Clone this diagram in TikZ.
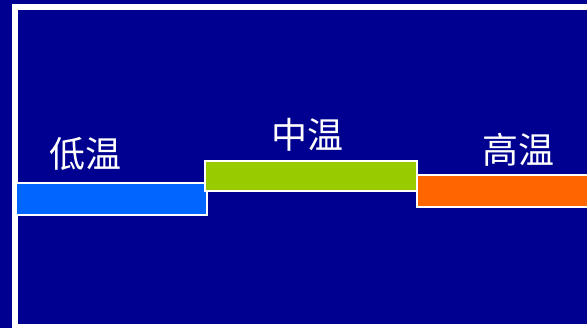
\documentclass[tikz,border=0pt]{standalone}
\usepackage{fontspec}
\newfontfamily\cjk{Noto Sans CJK SC}
\definecolor{bgblue}{RGB}{0,0,144}
\definecolor{barblue}{RGB}{0,102,255}
\definecolor{bargreen}{RGB}{153,204,0}
\definecolor{barorange}{RGB}{255,102,0}
\begin{document}
\begin{tikzpicture}[x=1pt,y=-1pt,
  bar/.style={draw=white,line width=1.2pt,inner sep=0pt,outer sep=0pt,anchor=north west},
  lbl/.style={text=white,font=\cjk\fontsize{36}{36}\selectfont,inner sep=0pt}]
\useasboundingbox (0,0) rectangle (587,328);
\fill[bgblue] (0,0) rectangle (587,328);
% frame
\fill[white] (12,4) rectangle (587,10);
\fill[white] (12,4) rectangle (18,328);
\fill[white] (18,324) rectangle (587,328);
% bars
\node[bar,fill=barblue,minimum width=191pt,minimum height=32pt] (low) at (16,183) {};
\node[bar,fill=bargreen,minimum width=212pt,minimum height=30pt] (mid) at (205,161) {};
\node[bar,fill=barorange,minimum width=175pt,minimum height=32pt] (high) at (417,175) {};
% labels
\node[lbl] (tlow) at (85,154) {低温};
\node[lbl] (tmid) at (307,135) {中温};
\node[lbl] (thigh) at (518,150) {高温};
\end{tikzpicture}
\end{document}
